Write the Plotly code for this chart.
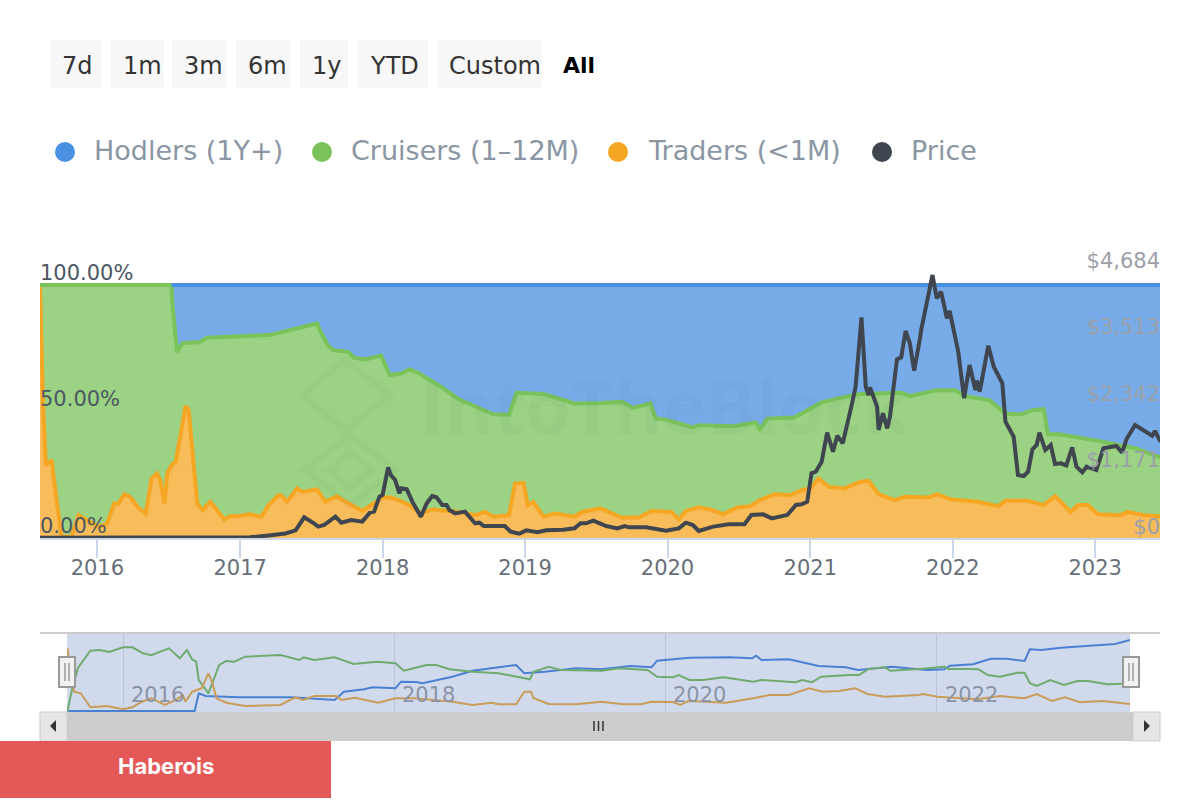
from datetime import datetime
import plotly.graph_objects as go

# ---------- main chart data (decimal years, percent / USD) ----------
traders_years = [2015.60,2015.62,2015.64,2015.68,2015.70,2015.72,2015.75,2015.82,2015.87,2016.01,2016.07,2016.12,2016.15,2016.19,2016.23,2016.29,2016.34,2016.38,2016.42,2016.44,2016.47,2016.49,2016.52,2016.55,2016.58,2016.62,2016.64,2016.68,2016.70,2016.74,2016.79,2016.82,2016.89,2016.93,2016.98,2017.07,2017.15,2017.20,2017.27,2017.29,2017.33,2017.40,2017.44,2017.54,2017.60,2017.68,2017.74,2017.86,2017.94,2018.00,2018.06,2018.14,2018.21,2018.27,2018.35,2018.54,2018.65,2018.72,2018.78,2018.89,2018.93,2018.99,2019.02,2019.06,2019.13,2019.21,2019.35,2019.40,2019.53,2019.62,2019.68,2019.80,2019.89,2020.03,2020.08,2020.13,2020.22,2020.30,2020.39,2020.49,2020.58,2020.65,2020.75,2020.86,2020.94,2021.00,2021.06,2021.13,2021.24,2021.35,2021.41,2021.48,2021.59,2021.67,2021.83,2021.89,2021.99,2022.18,2022.32,2022.37,2022.53,2022.64,2022.72,2022.83,2022.88,2022.95,2023.02,2023.18,2023.23,2023.34,2023.46]
traders_top = [100,51.8,28.8,30.8,21.5,12.3,0.5,0.7,9,4.4,5.7,13.6,13.6,17.3,16.3,11.7,9.7,23.5,25.5,22.9,13.6,25.5,28.8,30.1,40,52.1,50.5,25.5,13.6,11,14.3,12.3,7.3,8.6,8.6,9.4,8.4,13,16.9,16.9,14.3,19.6,18.2,19.2,14.3,16.5,14.3,10.7,13.6,16,16,14.3,12.3,9.7,11.3,10.3,9,10.3,8.4,9,21.5,21.8,13,14.3,8.4,9.7,8.4,10.3,11.7,9.4,8.1,8.1,10.7,10.3,7.3,10.7,12.1,11.3,9.4,12.1,12.6,15,17.3,16.9,18.9,19.6,23.5,20.2,19.6,22.2,22.6,17.3,15,16.3,16,17.3,15.2,14.3,12.6,14.7,14.7,13,16.5,10.3,13,13,9.4,9,10.3,9,8.6]

cruisers_years = [2015.60,2016.52,2016.53,2016.56,2016.60,2016.72,2016.77,2017.20,2017.25,2017.54,2017.56,2017.62,2017.66,2017.76,2017.80,2017.88,2017.99,2018.05,2018.13,2018.19,2018.25,2018.41,2018.54,2018.78,2018.89,2018.94,2019.13,2019.35,2019.53,2019.68,2019.76,2019.88,2019.92,2019.99,2020.18,2020.22,2020.46,2020.62,2020.65,2020.70,2020.89,2021.08,2021.19,2021.35,2021.64,2021.70,2021.89,2022.02,2022.08,2022.26,2022.37,2022.48,2022.56,2022.64,2022.67,2022.75,2023.02,2023.29,2023.46]
cruisers_top = [100,100,91.4,73.6,77.1,77.5,79.2,80.2,80.8,84.8,82.1,75.8,74.2,73.6,71.3,70.6,72.1,64.4,65,66.6,65.3,59.8,54.7,48.9,48.7,57.4,56.9,53.2,53.4,53.8,51.4,53.2,47.2,46.8,43.7,44.6,44.2,45.7,43,47.2,47.6,53.6,55.1,56.9,57.4,56.1,58.4,58.4,56.1,54.5,49.2,48.9,50.5,50.9,41,41,38.4,35.4,31.8]

hodlers_years = [2016.52,2023.46]
hodlers_top = [100,100]

price_years = [2015.60,2016.00,2016.50,2017.07,2017.20,2017.32,2017.39,2017.45,2017.52,2017.55,2017.59,2017.62,2017.67,2017.71,2017.78,2017.86,2017.91,2017.94,2017.98,2018.00,2018.04,2018.06,2018.09,2018.12,2018.13,2018.17,2018.21,2018.27,2018.31,2018.35,2018.38,2018.42,2018.45,2018.47,2018.51,2018.58,2018.65,2018.68,2018.71,2018.86,2018.90,2018.96,2019.01,2019.09,2019.15,2019.27,2019.35,2019.39,2019.43,2019.48,2019.53,2019.57,2019.65,2019.70,2019.73,2019.85,2019.99,2020.08,2020.13,2020.18,2020.22,2020.32,2020.43,2020.54,2020.59,2020.67,2020.73,2020.84,2020.90,2020.94,2020.98,2021.01,2021.04,2021.08,2021.12,2021.16,2021.19,2021.23,2021.29,2021.32,2021.36,2021.39,2021.41,2021.42,2021.47,2021.48,2021.51,2021.54,2021.56,2021.61,2021.64,2021.67,2021.70,2021.73,2021.77,2021.78,2021.86,2021.89,2021.92,2021.96,2021.98,2022.04,2022.08,2022.12,2022.16,2022.17,2022.19,2022.25,2022.29,2022.35,2022.37,2022.43,2022.46,2022.50,2022.53,2022.56,2022.59,2022.61,2022.65,2022.69,2022.72,2022.76,2022.80,2022.84,2022.87,2022.91,2022.94,2023.01,2023.06,2023.15,2023.19,2023.22,2023.28,2023.34,2023.40,2023.42,2023.46]
price_usd = [5,8,12,12,45,80,135,364,258,200,229,288,376,270,317,288,446,464,728,757,1244,1109,1021,787,875,857,640,376,610,740,716,581,581,493,434,464,258,270,211,211,112,76,135,100,135,147,170,258,258,305,258,211,170,211,188,188,129,170,270,229,123,200,241,241,405,417,346,405,581,593,640,1139,1168,1344,1855,1520,1802,1667,2313,2665,3886,2665,2518,2653,2313,1902,2195,1931,2137,3146,3182,3645,3428,2947,3516,3663,4631,4221,4338,3868,3997,3281,2460,3047,2606,2771,2577,3387,3017,2724,2049,1784,1109,1092,1168,1561,1638,1855,1550,1638,1303,1315,1280,1597,1256,1156,1256,1197,1579,1620,1503,1738,1990,1890,1802,1884,1696]

# ---------- navigator data ----------
nav_green_years = [2015.59,2015.63,2015.67,2015.76,2015.83,2015.90,2016.00,2016.07,2016.15,2016.21,2016.34,2016.42,2016.47,2016.51,2016.54,2016.56,2016.63,2016.66,2016.71,2016.76,2016.82,2016.90,2017.16,2017.30,2017.33,2017.41,2017.56,2017.70,2017.87,2018.01,2018.07,2018.24,2018.31,2018.41,2018.58,2018.77,2019.00,2019.03,2019.14,2019.23,2019.53,2019.66,2019.87,2019.94,2020.06,2020.10,2020.18,2020.28,2020.43,2020.65,2020.71,2020.96,2021.01,2021.08,2021.15,2021.36,2021.43,2021.50,2021.62,2021.66,2021.87,2022.06,2022.09,2022.24,2022.31,2022.38,2022.47,2022.60,2022.65,2022.69,2022.74,2022.84,2022.94,2023.04,2023.12,2023.26,2023.45]
nav_green = [0.3,25.3,44.3,61.3,62,60,64.7,64.7,58.7,56.7,63.7,53.7,62,52.7,50.3,32,18.7,28.7,47,51,50.3,55.3,57,52,54.7,52,54.7,48,50.3,48.7,41.3,47,47,42.7,40.3,38.7,32.7,40.3,45.3,42,41.3,43.7,42,35.3,34.7,37,32,32,34.7,30.3,32,29.7,32,29.7,35.3,37,37,43,44.7,41.3,43,45.3,43,43,42.7,37,35.3,39.3,39.3,28.7,26,32,27,31,31,27.7,28.7]

nav_blue_years = [2015.59,2016.53,2016.56,2016.61,2016.85,2017.24,2017.56,2017.63,2017.78,2017.84,2018.01,2018.05,2018.16,2018.21,2018.43,2018.58,2018.77,2018.90,2018.96,2019.11,2019.34,2019.53,2019.74,2019.90,2019.94,2020.18,2020.48,2020.64,2020.67,2020.71,2020.91,2021.13,2021.33,2021.42,2021.67,2021.93,2022.06,2022.10,2022.27,2022.40,2022.52,2022.65,2022.69,2022.77,2022.92,2023.32,2023.45]
nav_blue = [1,1,18.7,16,14.7,14.7,12,20.3,22.7,24.7,23.7,30.3,30,28.7,35.3,41.3,44.7,47,38.7,40.3,43.7,42.7,46,44.7,51.3,54.3,54.7,53.7,56.3,52,52.7,46,44.7,42,45.3,42,42.7,46.3,47.7,53.3,53.3,51,62.7,62,64.3,68,72.7]

nav_orange_years = [2015.59,2015.63,2015.64,2015.69,2015.76,2015.88,2016.00,2016.07,2016.14,2016.21,2016.31,2016.39,2016.44,2016.46,2016.51,2016.58,2016.63,2016.66,2016.69,2016.76,2016.90,2017.16,2017.27,2017.33,2017.41,2017.57,2017.61,2017.71,2017.88,2018.01,2018.15,2018.43,2018.58,2018.72,2018.77,2018.90,2018.96,2019.01,2019.03,2019.14,2019.34,2019.53,2019.69,2019.82,2019.90,2020.06,2020.11,2020.17,2020.45,2020.65,2020.77,2020.91,2021.06,2021.16,2021.28,2021.40,2021.49,2021.62,2021.87,2021.90,2022.01,2022.30,2022.47,2022.65,2022.74,2022.85,2022.95,2023.06,2023.23,2023.45]
nav_orange = [63.7,32,20.3,18.7,4.7,6,2.7,4.7,10.3,13.7,7,12,17,10.3,20.3,23.7,38.7,28.7,13.7,9.3,6,7,14.7,12,16,16,12,14.3,9.3,13.7,13.7,10.3,7,9.3,7.7,7.7,20.3,20.3,13.7,8,7.7,10.3,7.7,7.7,10.3,10,7,11,9.3,13.7,17,17,23.7,20.3,21,23.7,18,15.3,17,18,15.3,12.7,16,13.7,18,11,14.7,9.7,11,7.7]

# ---------- labels ----------
year_ticks = [2016,2017,2018,2019,2020,2021,2022,2023]
nav_year_ticks = [2016,2018,2020,2022]
price_ticks = [0,1171,2342,3513,4684]
price_tick_labels = ["$0","$1,171","$2,342","$3,513","$4,684"]
pct_ticks = [0,50,100]
pct_tick_labels = ["0.00%","50.00%","100.00%"]
range_buttons = ["7d","1m","3m","6m","1y","YTD","Custom"]
legend_names = ["Hodlers (1Y+)","Cruisers (1\u201312M)","Traders (<1M)","Price"]

BLUE, GREEN, ORANGE, DARK = "#4a90e2", "#7ac35a", "#f5a623", "#3f4650"
FONT = "DejaVu Sans"

def d(y):
    yr = int(y)
    a, b = datetime(yr,1,1), datetime(yr+1,1,1)
    return (a + (b-a)*(y-yr)).strftime("%Y-%m-%d")
def ds(a): return [d(v) for v in a]

W, H = 1200, 800
px = lambda x: x/W
py = lambda y: 1-y/H

fig = go.Figure()
# invisible carriers: they keep the $ axis underneath the areas and the year ticks on their own axis
fig.add_trace(go.Scatter(x=ds(price_years), y=price_usd, yaxis="y", xaxis="x", mode="lines",
                         line=dict(width=0), opacity=0, hoverinfo="skip", showlegend=False))
fig.add_trace(go.Scatter(x=ds(traders_years), y=traders_top, yaxis="y2", mode="lines", name=legend_names[2],
                         line=dict(color=ORANGE, width=4), fill="tozeroy", fillcolor="rgba(245,166,35,0.75)"))
fig.add_trace(go.Scatter(x=ds(cruisers_years), y=cruisers_top, yaxis="y2", mode="lines", name=legend_names[1],
                         line=dict(color=GREEN, width=4), fill="tonexty", fillcolor="rgba(122,195,90,0.75)"))
fig.add_trace(go.Scatter(x=ds(hodlers_years), y=hodlers_top, yaxis="y2", mode="lines", name=legend_names[0],
                         line=dict(color=BLUE, width=4), fill="tonexty", fillcolor="rgba(74,144,226,0.75)"))
fig.add_trace(go.Scatter(x=ds(price_years), y=price_usd, yaxis="y3", mode="lines", name=legend_names[3],
                         line=dict(color=DARK, width=4)))
fig.add_trace(go.Scatter(x=ds(price_years), y=price_usd, xaxis="x3", yaxis="y5", mode="lines",
                         line=dict(width=0), opacity=0, hoverinfo="skip", showlegend=False))
for yrs, vals, col in [(nav_blue_years,nav_blue,"#4a80d4"),(nav_green_years,nav_green,"#6fab6f"),(nav_orange_years,nav_orange,"#c99c58")]:
    fig.add_trace(go.Scatter(x=ds(yrs), y=vals, xaxis="x2", yaxis="y4", mode="lines",
                             line=dict(color=col, width=2), showlegend=False))

xrange_main = [d(2015.6), d(2023.456)]
ydom = [py(538), py(272)]
layout = dict(
    width=W, height=H, margin=dict(l=0,r=0,t=0,b=0,autoexpand=False), autosize=False, showlegend=False,
    paper_bgcolor="white", plot_bgcolor="rgba(0,0,0,0)", font=dict(family=FONT),
    xaxis=dict(domain=[px(40),px(1160)], range=xrange_main, type="date", anchor="y",
               showticklabels=False, ticks="", showgrid=False, zeroline=False),
    xaxis3=dict(domain=[px(40),px(1160)], range=xrange_main, type="date", anchor="y5", overlaying="x",
               tickvals=[f"{y}-01-01" for y in year_ticks], ticktext=[str(y) for y in year_ticks],
               showgrid=False, zeroline=False, showline=True, linecolor="#ccd6eb", linewidth=2,
               ticks="outside", ticklen=18, tickwidth=1.5, tickcolor="#ccd6eb", ticklabelstandoff=-8,
               tickfont=dict(size=21, color="#666f7a", family=FONT)),
    yaxis5=dict(domain=ydom, range=[0,4684], anchor="x3", overlaying="y", showticklabels=False, showgrid=False, zeroline=False, ticks=""),
    yaxis=dict(domain=ydom, range=[0,4684], side="right", anchor="x", tickvals=price_ticks, ticktext=price_tick_labels,
               ticklabelposition="inside top", ticklabeloverflow="allow", ticklabelstandoff=-3, ticklabelshift=3,
               showgrid=True, gridcolor="#f3f3f3", zeroline=False,
               tickfont=dict(size=21, color="#9aa0a8", family=FONT)),
    yaxis2=dict(domain=ydom, range=[0,105.14], overlaying="y", side="left", anchor="x", tickvals=pct_ticks, ticktext=pct_tick_labels,
                ticklabelposition="inside top", ticklabeloverflow="allow", ticklabelstandoff=-3, ticklabelshift=2,
                showgrid=False, zeroline=False,
                tickfont=dict(size=21, color="#4c5763", family=FONT)),
    yaxis3=dict(domain=ydom, range=[0,4684], overlaying="y", side="right", anchor="x", showticklabels=False,
                showgrid=False, zeroline=False, ticks=""),
    xaxis2=dict(domain=[px(67),px(1130)], range=[d(2015.587), d(2023.43)], type="date", anchor="y4",
                tickvals=[f"{y}-01-01" for y in nav_year_ticks], showticklabels=False,
                showgrid=True, gridcolor="#bcc4d6", gridwidth=1, zeroline=False, ticks=""),
    yaxis4=dict(domain=[py(712),py(633)], range=[0,79], anchor="x2", showticklabels=False,
                showgrid=False, zeroline=False, ticks=""),
)

shapes, ann = [], []
def rect(x0,y0,x1,y1,fill,line=None,lw=0,layer="above"):
    shapes.append(dict(type="rect",xref="paper",yref="paper",x0=px(x0),x1=px(x1),y0=py(y0),y1=py(y1),
                       fillcolor=fill,line=dict(color=line or fill,width=lw),layer=layer))
def seg(x0,y0,x1,y1,col,w=1,layer="above"):
    shapes.append(dict(type="line",xref="paper",yref="paper",x0=px(x0),x1=px(x1),y0=py(y0),y1=py(y1),
                       line=dict(color=col,width=w),layer=layer))
def text(x,y,s,size,col,anchor="left",fam=FONT):
    ann.append(dict(xref="paper",yref="paper",x=px(x),y=py(y),text=s,showarrow=False,xanchor=anchor,yanchor="middle",
                    font=dict(size=size,color=col,family=fam)))

# range buttons
btn_x = [(50,101),(111,164),(172,226),(236,290),(300,348),(358,428),(438,542)]
btn_text_x = [77.5,142,203,267,326,394,495]
for (a,b),s,tx in zip(btn_x,range_buttons,btn_text_x):
    rect(a,40,b,88,"#f7f7f7")
    text(tx,66,s,24,"#333333","center")
text(561,65,"<b>All</b>",22,"#000000")

# legend
leg_cols = [BLUE,GREEN,ORANGE,DARK]
for cx,tx,c,s in zip([65,322,618,882],[92,349,646,909],leg_cols,legend_names):
    shapes.append(dict(type="circle",xref="paper",yref="paper",x0=px(cx-10),x1=px(cx+10),y0=py(162),y1=py(142),
                       fillcolor=c,line=dict(width=0)))
    text(tx,150,s.replace("<","&lt;"),27,"#8a96a3")

# watermark
text(418,406,"<b>IntoTheBlock</b>",74,"rgba(70,90,110,0.035)","left","Open Sans")
wm = "rgba(70,90,110,0.03)"
for pts in [[(302,395),(345,360),(390,395),(345,430)],[(305,470),(350,435),(395,470),(350,505)],[(330,470),(350,452),(372,470),(350,488)]]:
    path = "M"+" L".join(f"{px(a)},{py(b)}" for a,b in pts)+" Z"
    shapes.append(dict(type="path",xref="paper",yref="paper",path=path,line=dict(color=wm,width=7),fillcolor="rgba(0,0,0,0)"))

# navigator chrome
rect(67,633,1130,712,"rgba(102,133,194,0.3)",layer="below")
seg(40,633,1160,633,"#cccccc",2)
rect(40,712,1160,741,"#cccccc")
rect(40,712,67,741,"#e6e6e6","#cccccc",1)
rect(1133,712,1160,741,"#e6e6e6","#cccccc",1)
for x in [594,598.5,603]:
    seg(x,721,x,731,"#333333",1.5)
for pts in [[(50,726),(56,720),(56,732)],[(1150,726),(1144,720),(1144,732)]]:
    path = "M"+" L".join(f"{px(a)},{py(b)}" for a,b in pts)+" Z"
    shapes.append(dict(type="path",xref="paper",yref="paper",path=path,fillcolor="#333333",line=dict(width=0)))
for cx in [67,1131]:
    rect(cx-8,657,cx+8,687,"#f2f2f2","#999999",2)
    seg(cx-2,663,cx-2,681,"#999999",1.5)
    seg(cx+2,663,cx+2,681,"#999999",1.5)
for y in nav_year_ticks:
    ann.append(dict(xref="x2",yref="paper",x=f"{y}-01-01",y=py(695),text=str(y),showarrow=False,xanchor="left",xshift=6,
                    yanchor="middle",font=dict(size=21,color="#8b93a6",family=FONT)))

# banner
rect(0,741,331,798,"#e45858")
text(166,766,"<b>Haberois</b>",22,"#ffffff","center","Inter")

layout["shapes"] = shapes
layout["annotations"] = ann
fig.update_layout(**layout)
fig.write_html("out.html", post_script="document.body.style.margin='0';", config=dict(displayModeBar=False))
